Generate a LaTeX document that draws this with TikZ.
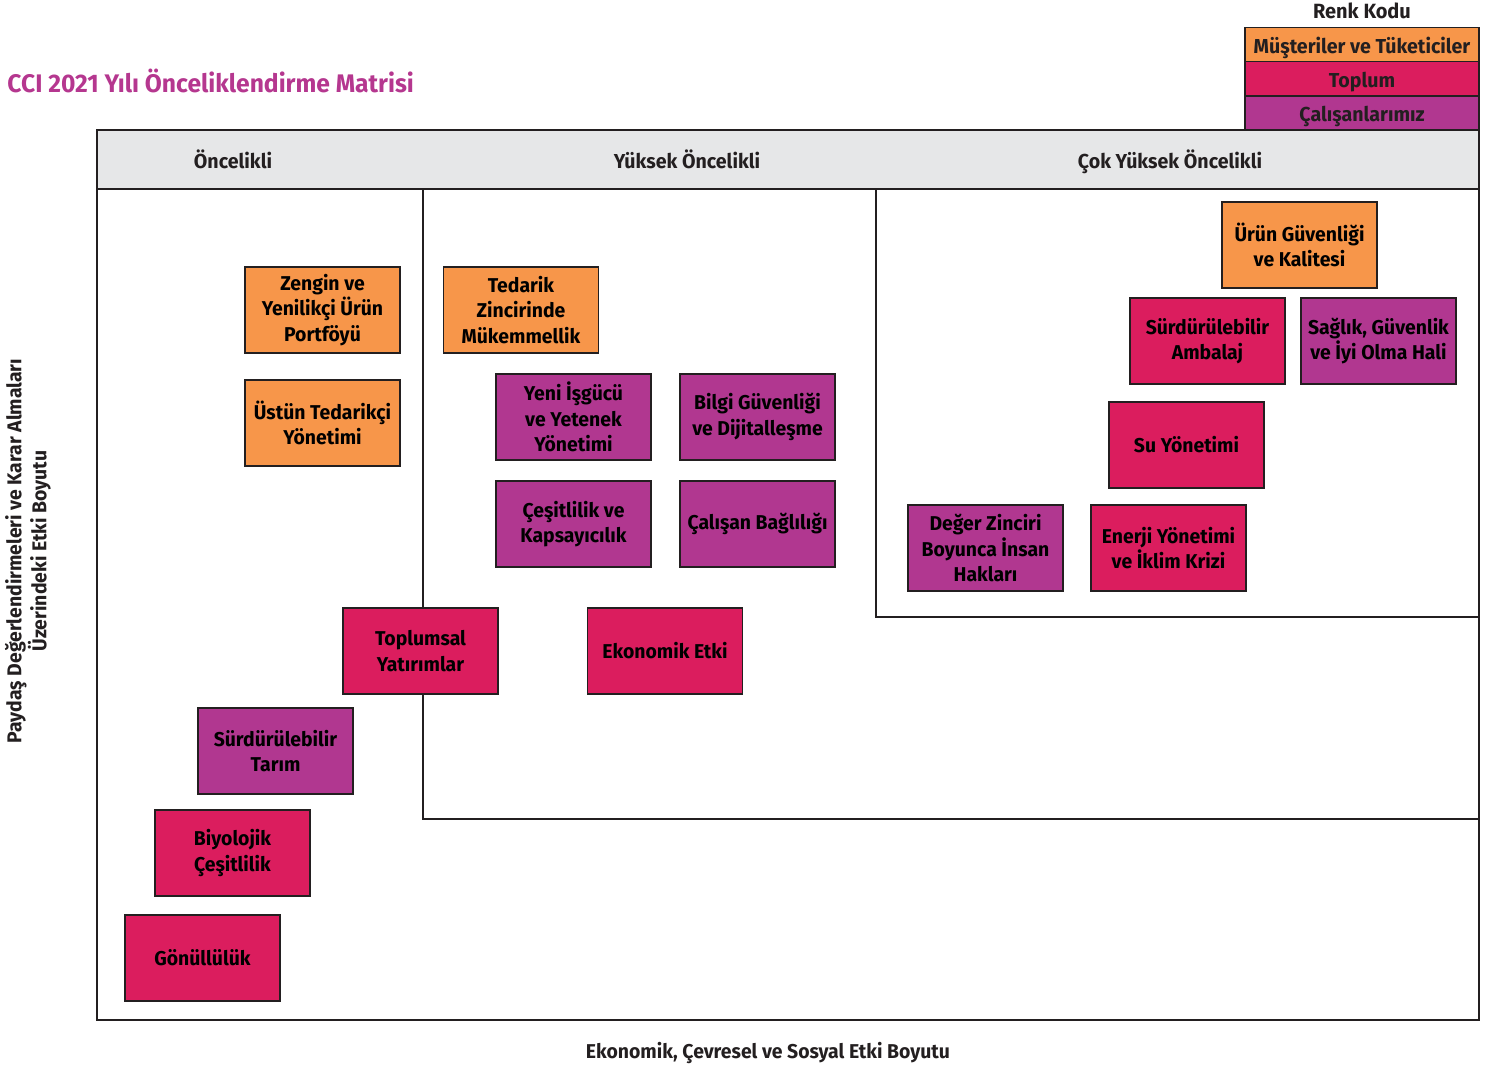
\documentclass[tikz,border=0pt]{standalone}
\usepackage{fontspec}
\setmainfont{Fira Sans}[FakeStretch=0.97]
\definecolor{corange}{HTML}{F7964A}
\definecolor{cred}{HTML}{DB1D5E}
\definecolor{cpurple}{HTML}{B13790}
\definecolor{ctitle}{HTML}{B5378F}
\definecolor{chead}{HTML}{E6E7E8}
\definecolor{cline}{HTML}{231F20}
\tikzset{
  mbox/.style={draw=cline, line width=0.7pt, minimum width=77.5pt, minimum height=43pt,
    inner sep=0pt, align=center, font=\fontsize{10}{12.7}\selectfont\bfseries},
  ob/.style={mbox, fill=corange},
  rb/.style={mbox, fill=cred},
  pb/.style={mbox, fill=cpurple},
  frame/.style={draw=cline, line width=0.7pt},
  lbl/.style={font=\fontsize{10.1}{12}\selectfont\bfseries, text=cline},
  leg/.style={draw=cline, line width=0.7pt, minimum width=117pt, minimum height=17pt, inner sep=0pt},
  legtxt/.style={anchor=base, inner sep=0pt, font=\fontsize{10.1}{12}\selectfont\bfseries, text=cline}
}
\begin{document}
\begin{tikzpicture}[x=0.5pt,y=-0.5pt]
\useasboundingbox (0,0) rectangle (1493,1068);
% title
\node[anchor=west, inner sep=0pt, text=ctitle, font=\fontsize{12.7}{14}\selectfont\bfseries] (title) at (7,81) {CCI 2021 Yılı Önceliklendirme Matrisi};
% legend
\node[legtxt, font=\fontsize{10.3}{12}\selectfont\bfseries] (renk) at (1362,19) {Renk Kodu};
\node[leg, fill=corange] (lo) at (1362,44.5) {};
\node[leg, fill=cred] (lr) at (1362,78.5) {};
\node[leg, fill=cpurple] (lp) at (1362,113) {};
\node[legtxt] (lot) at (1362,53.5) {Müşteriler ve Tüketiciler};
\node[legtxt] (lrt) at (1362,87.5) {Toplum};
\node[legtxt] (lpt) at (1362,122) {Çalışanlarımız};
% header
\fill[chead] (97,130) rectangle (1479,189);
\draw[frame] (97,130) rectangle (1479,1020);
\draw[frame] (97,189) -- (1479,189);
\node[legtxt] (h1) at (233,169) {Öncelikli};
\node[legtxt] (h2) at (687,169) {Yüksek Öncelikli};
\node[legtxt] (h3) at (1170,169) {Çok Yüksek Öncelikli};
% inner regions
\draw[frame] (423,189) -- (423,819) -- (1479,819);
\draw[frame] (876,189) -- (876,617) -- (1479,617);
% boxes
\node[ob] (zengin) at (322.5,310) {Zengin ve\\Yenilikçi Ürün\\Portföyü};
\node[ob] (ustun) at (322.5,423) {Üstün Tedarikçi\\Yönetimi};
\node[ob] (tedarik) at (521,310) {Tedarik\\Zincirinde\\Mükemmellik};
\node[pb] (isgucu) at (573.5,417) {Yeni İşgücü\\ve Yetenek\\Yönetimi};
\node[pb] (bilgi) at (757.5,417) {Bilgi Güvenliği\\ve Dijitalleşme};
\node[pb] (cesit) at (573.5,524) {Çeşitlilik ve\\Kapsayıcılık};
\node[pb] (calisan) at (757.5,524) {Çalışan Bağlılığı};
\node[rb] (toplumsal) at (420.5,651) {Toplumsal\\Yatırımlar};
\node[rb] (ekonomik) at (665,651) {Ekonomik Etki};
\node[pb] (tarim) at (275.5,751) {Sürdürülebilir\\Tarım};
\node[rb] (biyo) at (232.5,853) {Biyolojik\\Çeşitlilik};
\node[rb] (gonul) at (202.5,958) {Gönüllülük};
\node[ob] (urun) at (1299.5,245) {Ürün Güvenliği\\ve Kalitesi};
\node[rb] (ambalaj) at (1207.5,341) {Sürdürülebilir\\Ambalaj};
\node[pb] (saglik) at (1378.5,341) {Sağlık, Güvenlik\\ve İyi Olma Hali};
\node[rb] (su) at (1186.5,445) {Su Yönetimi};
\node[pb] (insan) at (985.5,548) {Değer Zinciri\\Boyunca İnsan\\Hakları};
\node[rb] (enerji) at (1168.5,548) {Enerji Yönetimi\\ve İklim Krizi};
% axis labels
\node[lbl, rotate=90, align=center, font=\fontsize{10}{12.5}\selectfont\bfseries] (ylab) at (28,551) {Paydaş Değerlendirmeleri ve Karar Almaları\\Üzerindeki Etki Boyutu};
\node[legtxt, font=\fontsize{10}{12}\selectfont\bfseries] (xlab) at (768,1058) {Ekonomik, Çevresel ve Sosyal Etki Boyutu};
\end{tikzpicture}
\end{document}
